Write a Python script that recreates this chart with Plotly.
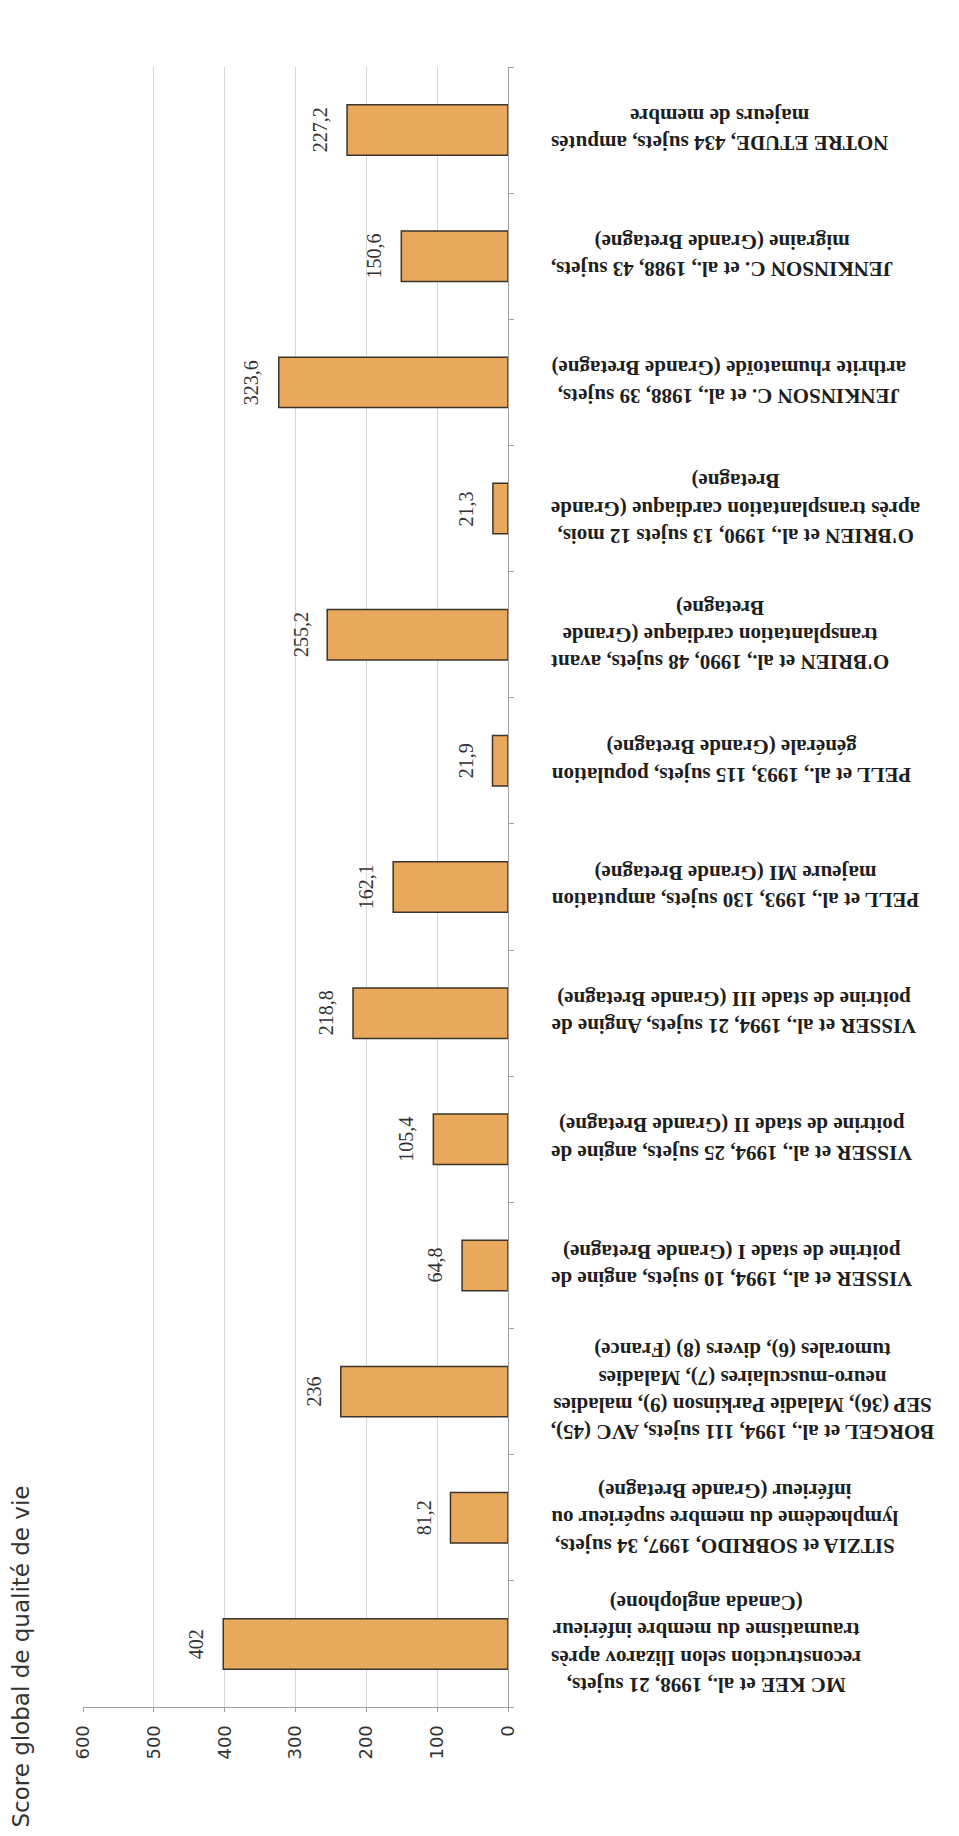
import plotly.graph_objects as go

categories = [
    "MC KEE et al., 1998, 21 sujets,<br>reconstruction selon Ilizarov après<br>traumatisme du membre inférieur<br>(Canada anglophone)",
    "SITZIA et SOBRIDO, 1997, 34 sujets,<br>lymphœdème du membre supérieur ou<br>inférieur (Grande Bretagne)",
    "BORGEL et al., 1994, 111 sujets, AVC (45),<br>SEP (36), Maladie Parkinson (9), maladies<br>neuro-musculaires (7), Maladies<br>tumorales (6), divers (8) (France)",
    "VISSER et al., 1994, 10 sujets, angine de<br>poitrine de stade I (Grande Bretagne)",
    "VISSER et al., 1994, 25 sujets, angine de<br>poitrine de stade II (Grande Bretagne)",
    "VISSER et al., 1994, 21 sujets, Angine de<br>poitrine de stade III (Grande Bretagne)",
    "PELL et al., 1993, 130 sujets, amputation<br>majeure MI (Grande Bretagne)",
    "PELL et al., 1993, 115 sujets, population<br>générale (Grande Bretagne)",
    "O'BRIEN et al., 1990, 48 sujets, avant<br>transplantation cardiaque (Grande<br>Bretagne)",
    "O'BRIEN et al., 1990, 13 sujets 12 mois,<br>après transplantation cardiaque (Grande<br>Bretagne)",
    "JENKINSON C. et al., 1988, 39 sujets,<br>arthrite rhumatoïde (Grande Bretagne)",
    "JENKINSON C. et al., 1988, 43 sujets,<br>migraine (Grande Bretagne)",
    "NOTRE ETUDE, 434 sujets, amputés<br>majeurs de membre",
]
values = [402, 81.2, 236, 64.8, 105.4, 218.8, 162.1, 21.9, 255.2, 21.3, 323.6, 150.6, 227.2]
tick_vals = [0, 100, 200, 300, 400, 500, 600]
axis_title = "Score global de qualité de vie"

value_text = [f"{v:g}".replace(".", ",") for v in values]
cat_ids = [f"c{i}" for i in range(len(categories))]

fig = go.Figure()
fig.add_trace(go.Bar(
    y=cat_ids, x=values, orientation="h",
    marker=dict(color="#E9A95C", line=dict(color="#3d3328", width=1.5)),
    width=0.4, hoverinfo="x",
))

annotations = []
# value labels, placed at each bar's end
for cid, v, t in zip(cat_ids, values, value_text):
    annotations.append(dict(
        x=v, xref="x", y=cid, yref="y", text=t, showarrow=False,
        textangle=-90, xanchor="center", yanchor="middle", xshift=-27,
        font=dict(family="Liberation Serif", size=20, color="#333333"),
    ))
# category labels (upside down, right of the axis)
for cid, lab in zip(cat_ids, categories):
    annotations.append(dict(
        x=1.098, xref="paper", y=cid, yref="y",
        text=lab, showarrow=False, textangle=180, align="center",
        xanchor="left", yanchor="middle",
        font=dict(family="Liberation Serif", size=21, color="#1e1e1e", weight="bold"),
    ))
annotations.append(dict(
    x=-0.147, xref="paper", y=-0.075, yref="paper",
    text=axis_title, showarrow=False, textangle=-90,
    xanchor="center", yanchor="bottom",
    font=dict(family="DejaVu Sans", size=23, color="#333333"),
))

fig.update_layout(
    width=959, height=1836,
    margin=dict(l=75, r=459, t=59, b=137),
    paper_bgcolor="white", plot_bgcolor="white",
    showlegend=False,
    annotations=annotations,
    xaxis=dict(
        range=[600, 0], tickvals=tick_vals, tickangle=-90,
        showgrid=True, gridcolor="#d6d6d6", gridwidth=1,
        zeroline=False, showline=True, linecolor="#a0a0a0", linewidth=1,
        ticks="outside", ticklen=4, tickcolor="#a0a0a0", ticklabelstandoff=6,
        tickfont=dict(family="DejaVu Sans", size=18, color="#333333"),
    ),
    yaxis=dict(
        type="category", categoryorder="array", categoryarray=cat_ids,
        side="right", showline=True, linecolor="#a0a0a0", linewidth=1,
        showticklabels=False, ticks="outside", ticklen=5, tickcolor="#a0a0a0",
        tickson="boundaries", showgrid=False, zeroline=False,
    ),
)

fig.write_html("out.html")
